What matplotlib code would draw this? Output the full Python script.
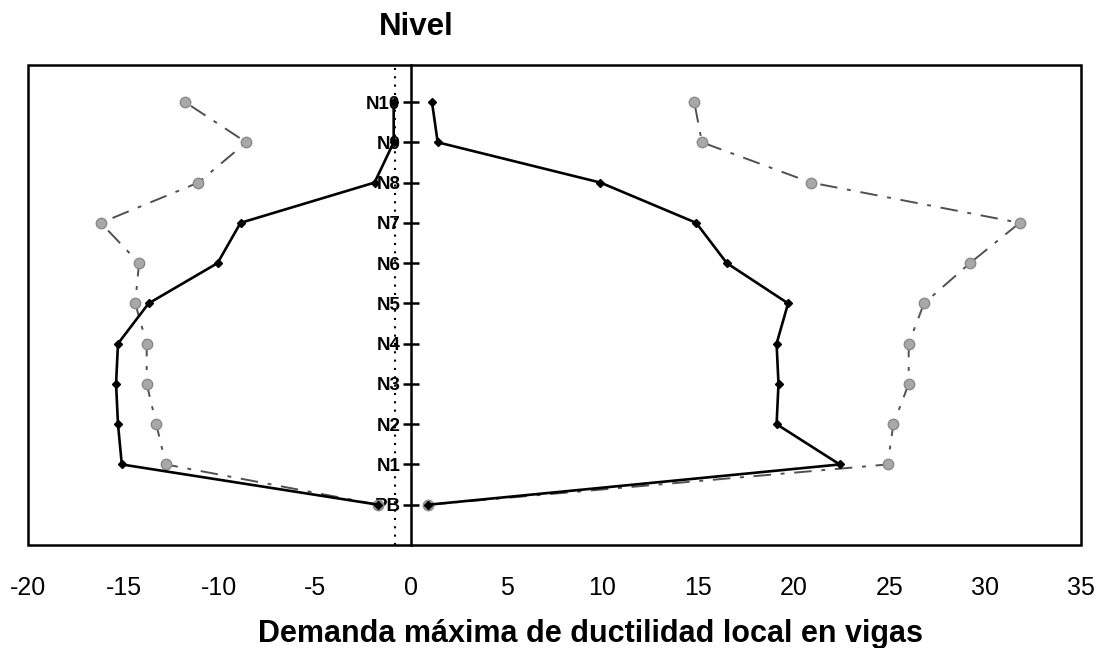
import numpy as np
import matplotlib.pyplot as plt
from matplotlib.patches import Rectangle

plt.rcParams['font.family'] = ['Liberation Sans', 'DejaVu Sans']
plt.rcParams['axes.unicode_minus'] = False

# niveles de la estructura (de abajo hacia arriba)
niveles = ['PB', 'N1', 'N2', 'N3', 'N4', 'N5', 'N6', 'N7', 'N8', 'N9', 'N10']

# demanda de ductilidad, curva negra (continua)
neg_negra = [-1.7, -15.1, -15.3, -15.4, -15.3, -13.7, -10.1, -8.9, -1.9, -0.9, -0.9]
pos_negra = [0.9, 22.4, 19.1, 19.2, 19.1, 19.7, 16.5, 14.9, 9.9, 1.4, 1.1]

# demanda de ductilidad, curva gris (punto-raya)
neg_gris = [-1.7, -12.8, -13.3, -13.8, -13.8, -14.4, -14.2, -16.2, -11.1, -8.6, -11.8]
pos_gris = [0.9, 24.9, 25.2, 26.0, 26.0, 26.8, 29.2, 31.8, 20.9, 15.2, 14.8]

# linea de referencia punteada
x_ref = -0.85

y = np.arange(len(niveles))

fig = plt.figure(figsize=(11, 6.48), dpi=100)
ax = fig.add_axes([28/1100, 1 - 545/648, 1053/1100, 480/648])

gris = dict(color='#505050', linestyle=(0, (9, 5, 2, 5)), linewidth=1.4,
            marker='o', markersize=7.5, markerfacecolor='#a8a8a8',
            markeredgecolor='#8a8a8a', zorder=2)
negra = dict(color='black', linewidth=1.9, marker='D', markersize=4.5, zorder=3)

ax.plot(neg_gris, y, **gris)
ax.plot(pos_gris, y, **gris)
ax.plot(neg_negra, y, **negra)
ax.plot(pos_negra, y, **negra)

ax.axvline(x_ref, color='black', linestyle=(0, (1, 3)), linewidth=1.5, zorder=1)

ax.set_xlim(-20, 35)
ax.set_ylim(-1, 10.92)
ax.set_xticks(np.arange(-20, 36, 5))
ax.set_yticks(y)
ax.set_yticklabels(niveles)

for s in ['top', 'right', 'bottom']:
    ax.spines[s].set_visible(False)
ax.spines['left'].set_position(('data', 0))
ax.spines['left'].set_linewidth(1.8)
ax.add_patch(Rectangle((0, 0), 1, 1, transform=ax.transAxes, fill=False,
                       edgecolor='black', linewidth=1.8, clip_on=False, zorder=5))

ax.tick_params(axis='y', direction='inout', length=11, width=1.8, pad=2,
               labelsize=13.5)
ax.tick_params(axis='x', length=0, pad=22, labelsize=18)
for lbl in ax.get_yticklabels():
    lbl.set_fontweight('bold')

fig.text(416/1100, 1 - 35/648, 'Nivel', ha='center', va='baseline',
         fontsize=22.5, fontweight='bold')
fig.text(590/1100, 1 - 642/648, 'Demanda máxima de ductilidad local en vigas',
         ha='center', va='baseline', fontsize=22, fontweight='bold')

fig.savefig('out.png', dpi=100, facecolor='white')
